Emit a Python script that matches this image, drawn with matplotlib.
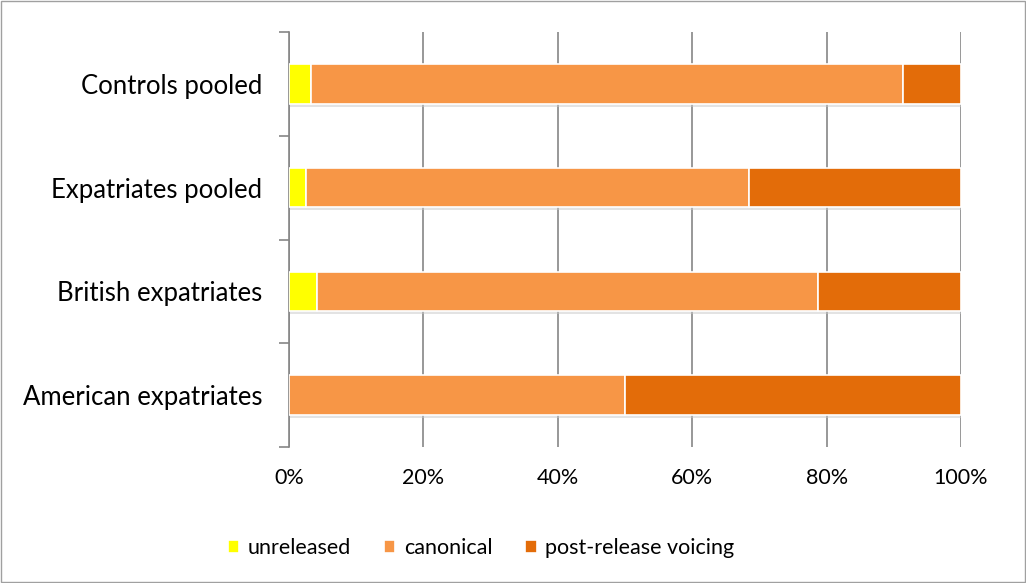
import matplotlib
matplotlib.use("Agg")
import matplotlib.pyplot as plt
import numpy as np
from matplotlib.patches import Rectangle

categories = ["American expatriates", "British expatriates", "Expatriates pooled", "Controls pooled"]
unreleased = [0.0, 4.2, 2.6, 3.3]
canonical = [50.0, 74.5, 65.9, 88.1]
post_release = [50.0, 21.3, 31.5, 8.6]

series = [
    ("unreleased", unreleased, "#FFFF00"),
    ("canonical", canonical, "#F79646"),
    ("post-release voicing", post_release, "#E36C09"),
]

plt.rcParams["font.family"] = ["Lato", "DejaVu Sans"]

fig = plt.figure(figsize=(10.26, 5.83), dpi=100)
ax = fig.add_axes([289 / 1026, 1 - 447 / 583, (961 - 289) / 1026, (447 - 32) / 583])

y = np.arange(len(categories))
left = np.zeros(len(categories))
for name, vals, color in series:
    vals = np.array(vals)
    # soft shadow under each segment
    ax.barh(y - 0.03, vals, left=left, height=0.38, color="#c8c8c8", alpha=0.5,
            edgecolor="none", zorder=2)
    ax.barh(y, vals, left=left, height=0.38, color=color, edgecolor="white",
            linewidth=1.2, label=name, zorder=3)
    left += vals

ax.set_xlim(0, 100)
ax.set_ylim(-0.5, len(categories) - 0.5)
ax.set_xticks(np.arange(0, 101, 20))
ax.set_xticklabels([f"{v}%" for v in range(0, 101, 20)], fontsize=15.5)
ax.set_yticks(y)
ax.set_yticklabels(categories, fontsize=18.5)
ax.set_yticks(np.arange(-0.5, len(categories), 1), minor=True)
ax.tick_params(axis="y", which="major", length=0, pad=19)
ax.tick_params(axis="y", which="minor", length=7, color="#868686", width=1.2)
ax.tick_params(axis="x", length=0, pad=15)

ax.grid(axis="x", color="#868686", linewidth=1.2, zorder=1)
ax.set_axisbelow(True)
for side in ["top", "right", "bottom"]:
    ax.spines[side].set_visible(False)
ax.spines["left"].set_color("#868686")
ax.spines["left"].set_linewidth(1.2)

fig.legend(loc="center", bbox_to_anchor=(481 / 1026, 1 - 548 / 583), ncol=3,
           frameon=False, fontsize=15.5, handlelength=0.55, handleheight=0.55,
           columnspacing=1.5, handletextpad=0.4)

fig.patches.append(Rectangle((0.001, 0.001), 0.998, 0.998, transform=fig.transFigure,
                             fill=False, edgecolor="#a0a0a0", linewidth=1))

fig.savefig("out.png", dpi=100)
